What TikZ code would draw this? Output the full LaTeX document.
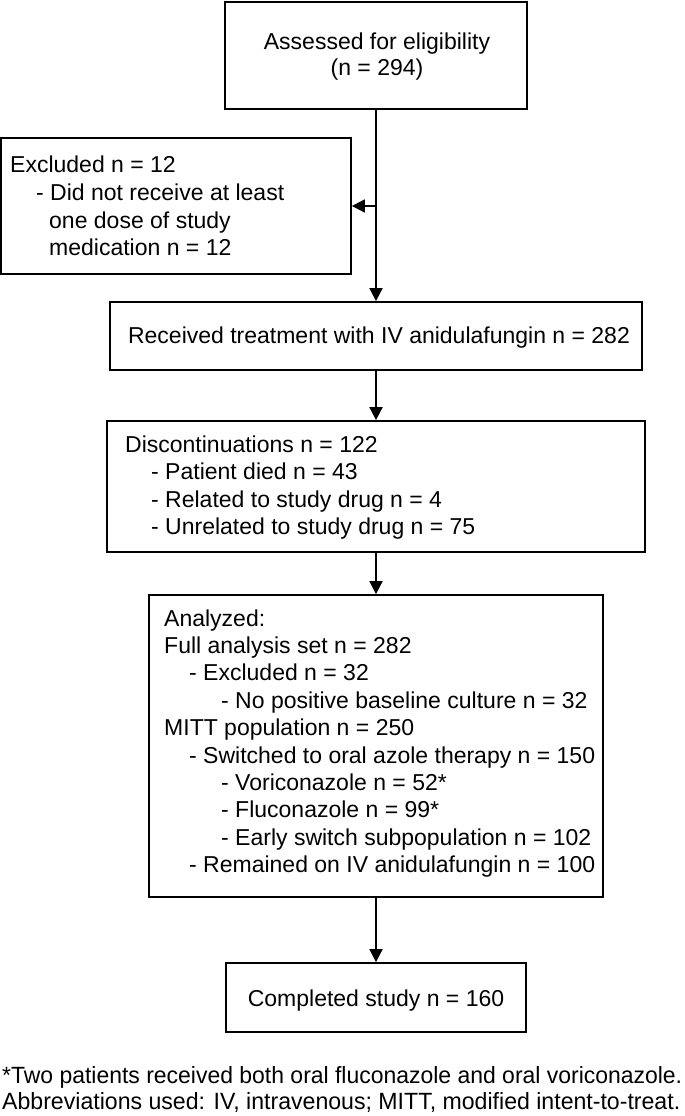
\documentclass[tikz,border=0pt]{standalone}
\usepackage{fontspec}
\setmainfont{Liberation Sans}
\usepackage{graphicx}
\usetikzlibrary{arrows.meta}
\begin{document}
\begin{tikzpicture}[x=1pt,y=-1pt,
  box/.style={draw, line width=1.8pt, inner sep=0pt},
  tl/.style={inner sep=0pt, anchor=base west, font=\fontsize{23}{27}\selectfont},
  tc/.style={inner sep=0pt, anchor=base, font=\fontsize{23}{27}\selectfont},
  fn/.style={inner sep=0pt, anchor=base west, font=\fontsize{23.5}{27}\selectfont},
  conn/.style={line width=1.8pt, -{Triangle[length=13pt,width=13pt]}},
  line/.style={line width=1.8pt}]
\useasboundingbox (0,0) rectangle (685,1116);
% boxes
\node[box, minimum width=302pt, minimum height=107pt] (assess) at (376,55.5) {};
\node[box, minimum width=350pt, minimum height=136pt] (excl) at (176,206) {};
\node[box, minimum width=532pt, minimum height=68pt] (recv) at (376,336) {};
\node[box, minimum width=538pt, minimum height=131pt] (disc) at (376,486.5) {};
\node[box, minimum width=454pt, minimum height=302pt] (anal) at (376,746) {};
\node[box, minimum width=300pt, minimum height=69pt] (comp) at (376,997.5) {};
% texts
\node[tc] (a1) at (377,49) {Assessed for eligibility};
\node[tc] (a2) at (377,76) {(n = 294)};
\node[tl] (e1) at (10,172) {Excluded n = 12};
\node[tl] (e2) at (36,200) {- Did not receive at least};
\node[tl] (e3) at (49,228) {one dose of study};
\node[tl] (e4) at (49,255) {medication n = 12};
\node[tc] (r1) at (379,343) {Received treatment with IV anidulafungin n = 282};
\node[tl] (d1) at (125,452) {Discontinuations n = 122};
\node[tl] (d2) at (151,479.5) {- Patient died n = 43};
\node[tl] (d3) at (151,507) {- Related to study drug n = 4};
\node[tl] (d4) at (151,534.5) {- Unrelated to study drug n = 75};
\node[tl] (n1) at (164,626) {Analyzed:};
\node[tl] (n2) at (164,653.4) {Full analysis set n = 282};
\node[tl] (n3) at (189,680.8) {- Excluded n = 32};
\node[tl] (n4) at (221,708.2) {- No positive baseline culture n = 32};
\node[tl] (n5) at (164,735.6) {MITT population n = 250};
\node[tl] (n6) at (189,763) {- Switched to oral azole therapy n = 150};
\node[tl] (n7) at (221,790.4) {- Voriconazole n = 52*};
\node[tl] (n8) at (221,817.8) {- Fluconazole n = 99*};
\node[tl] (n9) at (221,845.2) {- Early switch subpopulation n = 102};
\node[tl] (n10) at (189,872.6) {- Remained on IV anidulafungin n = 100};
\node[tc] (c1) at (376,1006) {Completed study n = 160};
\node[fn] (f1) at (2,1083) {\resizebox{680pt}{\height}{*Two patients received both oral fluconazole and oral voriconazole.}};
\node[fn] (f2) at (2,1109) {\resizebox{678pt}{\height}{Abbreviations used: IV, intravenous; MITT, modified intent-to-treat.}};
% connectors
\coordinate (j) at (assess.south |- excl.east);
\draw[line] (assess.south) -- (j);
\draw[conn] (j) -- (recv.north);
\draw[conn] (j) -- (excl.east);
\draw[conn] (recv.south) -- (disc.north);
\draw[conn] (disc.south) -- (anal.north);
\draw[conn] (anal.south) -- (comp.north);
\end{tikzpicture}
\end{document}
